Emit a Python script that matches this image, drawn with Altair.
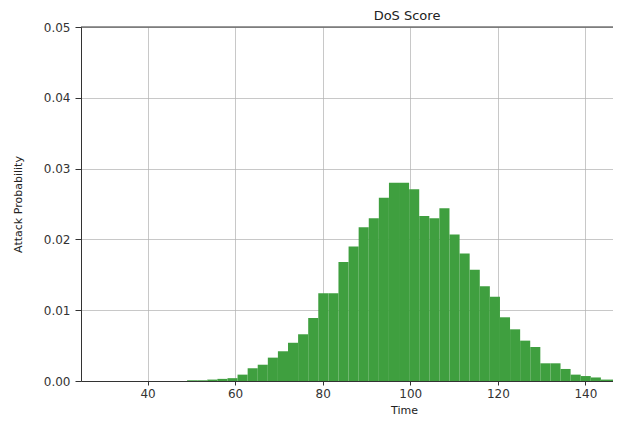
import altair as alt
import pandas as pd

# Histogram bins (left edges, in Time units) and their heights (density)
bin_start = [49.03, 51.33, 53.64, 55.94, 58.25, 60.55, 62.86, 65.16, 67.47, 69.77,
             72.08, 74.38, 76.69, 78.99, 81.30, 83.60, 85.91, 88.21, 90.52, 92.82,
             95.13, 97.43, 99.74, 102.04, 104.35, 106.65, 108.96, 111.26, 113.57, 115.87,
             118.18, 120.48, 122.79, 125.09, 127.40, 129.70, 132.01, 134.31, 136.62, 138.92,
             141.23, 143.53, 145.84]
bin_width = 2.305
density = [0.0001, 0.0001, 0.0002, 0.0003, 0.0004,
           0.0009, 0.0018, 0.0023, 0.0033, 0.0042, 0.0054, 0.0066, 0.0089, 0.0124, 0.0124,
           0.0168, 0.0190, 0.0217, 0.0230, 0.0259, 0.0280, 0.0280,
           0.0271, 0.0233, 0.0230, 0.0244, 0.0207, 0.0180, 0.0157, 0.0134, 0.0119, 0.0090,
           0.0073, 0.0057, 0.0048, 0.0025, 0.0025, 0.0017, 0.0009, 0.0007, 0.0005, 0.0002, 0.0002]

x_ticks = [40, 60, 80, 100, 120, 140]
y_ticks = [0.00, 0.01, 0.02, 0.03, 0.04, 0.05]
y_top = 0.05

df = pd.DataFrame({"start": bin_start, "density": density})
df["end"] = df["start"] + bin_width

FONT = "DejaVu Sans"

x_scale = alt.Scale(domain=[24.8, 146.3], nice=False, zero=False)
y_scale = alt.Scale(domain=[0, y_top], nice=False)

bars = alt.Chart(df).mark_rect(color="#3f9f3f", clip=True).encode(
    x=alt.X("start:Q", scale=x_scale,
            axis=alt.Axis(values=x_ticks, title="Time", titleX=323, titlePadding=5)),
    x2="end:Q",
    y=alt.Y("density:Q", scale=y_scale,
            axis=alt.Axis(values=y_ticks, format=".2f", title="Attack Probability",
                          titlePadding=20)),
    y2=alt.datum(0),
)

top_spine = alt.Chart(pd.DataFrame({"k": [0]})).mark_rule(
    color="#333333", strokeWidth=1
).encode(y=alt.datum(y_top))

chart = alt.layer(bars, top_spine).properties(
    width=532,
    height=354,
    autosize=alt.AutoSizeParams(type="none"),
    padding={"left": 73, "top": 19, "right": 0, "bottom": 36},
    title=alt.TitleParams("DoS Score", fontSize=13, font=FONT, fontWeight="normal",
                          color="#222222", dx=60, offset=-2, frame="group"),
).configure_view(
    strokeWidth=0
).configure_axis(
    zindex=1,
    grid=True,
    gridColor="#b0b0b0",
    gridOpacity=0.7,
    gridWidth=1,
    domainColor="#333333",
    tickColor="#333333",
    labelFont=FONT,
    labelFontSize=12,
    labelColor="#333333",
    titleFont=FONT,
    titleFontSize=11,
    titleFontWeight="normal",
    titleColor="#222222",
).configure_axisX(
    tickSize=4, labelPadding=3
).configure_axisY(
    tickSize=6, labelPadding=5
)

chart.save("out.html", embed_options={"renderer": "svg", "actions": False})
